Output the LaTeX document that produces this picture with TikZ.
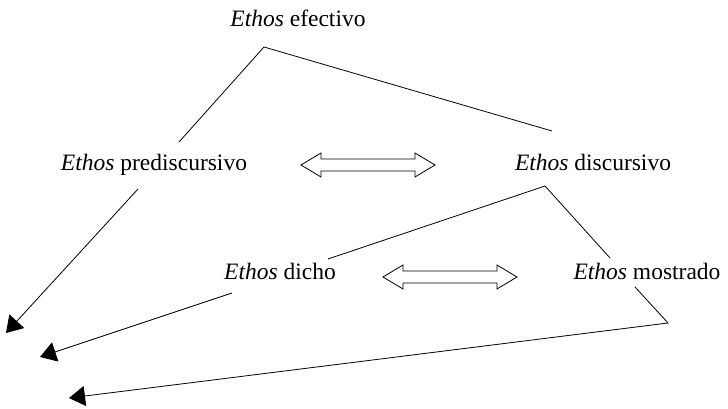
\documentclass[tikz,border=0pt]{standalone}
\usepackage{fontspec}
\setmainfont{Liberation Serif}
\usetikzlibrary{arrows.meta}
\begin{document}
\begin{tikzpicture}[x=1pt,y=-1pt,
  lbl/.style={anchor=base,inner sep=0pt,font=\fontsize{23.5}{28}\selectfont},
  conn/.style={line width=0.8pt,line join=miter},
  arr/.style={conn,-{Triangle[length=16pt,width=20pt]}},
  dbl/.pic={\draw[fill=white,line width=0.8pt,line join=miter]
     (-67,0) -- (-47,-12) -- (-47,-6) -- (47,-6) -- (47,-12) -- (67,0)
     -- (47,12) -- (47,6) -- (-47,6) -- (-47,12) -- cycle;}]
\path[use as bounding box] (0,0) rectangle (728,409);
% texts
\node[lbl] (eff) at (298,27) {\textit{Ethos} efectivo};
\node[lbl] (pre) at (154,171) {\textit{Ethos} prediscursivo};
\node[lbl] (dis) at (593,170) {\textit{Ethos} discursivo};
\node[lbl] (dic) at (280,279) {\textit{Ethos} dicho};
\node[lbl] (mos) at (647,279) {\textit{Ethos} mostrado};
% points
\coordinate (e1) at (264,47);
\coordinate (e2) at (179,142);
\coordinate (e3) at (552,131);
\coordinate (d1) at (545,186);
\coordinate (d2) at (328,259);
\coordinate (d3) at (610,258);
\coordinate (m1) at (635,287);
\coordinate (m2) at (668,323);
\coordinate (a1s) at (138,189);
\coordinate (a1t) at (6,333);
\coordinate (a2s) at (232,293);
\coordinate (a2t) at (40,357);
\coordinate (a3t) at (69,398);
% connectors
\draw[conn] (e2) -- (e1) -- (e3);
\draw[conn] (d2) -- (d1) -- (d3);
\draw[arr] (m1) -- (m2) -- (a3t);
\draw[arr] (a1s) -- (a1t);
\draw[arr] (a2s) -- (a2t);
% double arrows
\pic at (368,165) {dbl};
\pic at (450,277) {dbl};
\end{tikzpicture}
\end{document}
